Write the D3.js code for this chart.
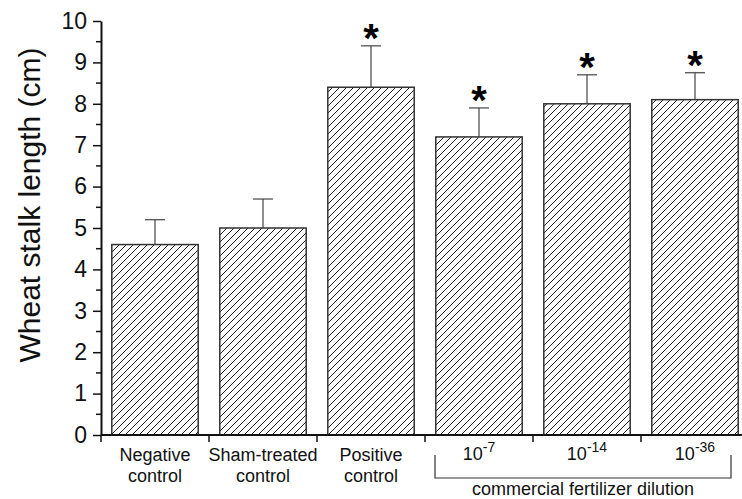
<!DOCTYPE html>
<html>
<head>
<meta charset="utf-8">
<script src="https://cdn.jsdelivr.net/npm/d3@7"></script>
<style>
  body { margin: 0; background: #fff; }
  svg { font-family: "Liberation Sans", Arial, sans-serif; }
</style>
</head>
<body>
<div id="chart"></div>
<script>
// chart data
const groups = ["neg", "sham", "pos", "d7", "d14", "d36"];
const labelLines = [["Negative", "control"], ["Sham-treated", "control"], ["Positive", "control"], [], [], []];
const dilutionExp = [null, null, null, "-7", "-14", "-36"];
const means = [4.6, 5.0, 8.4, 7.2, 8.0, 8.1];
const errTop = [5.2, 5.7, 9.4, 7.9, 8.7, 8.75];
const starred = [false, false, true, true, true, true];
const yTicks = [0, 1, 2, 3, 4, 5, 6, 7, 8, 9, 10];
const bracketLabel = "commercial fertilizer dilution";

const svgWidth = 742, svgHeight = 499;
const margin = { top: 21, left: 101, bottom: 64 };
const plotRight = 749;

const svg = d3.select("#chart").append("svg")
  .attr("width", svgWidth)
  .attr("height", svgHeight);

// diagonal hatch
const hs = 7;
svg.append("defs").append("pattern")
  .attr("id", "hatch")
  .attr("patternUnits", "userSpaceOnUse")
  .attr("width", hs)
  .attr("height", hs)
  .append("path")
  .attr("d", `M-1,1 l2,-2 M0,${hs} l${hs},-${hs} M${hs - 1},${hs + 1} l2,-2`)
  .attr("stroke", "#222")
  .attr("stroke-width", 1);

const y = d3.scaleLinear()
  .domain([0, 10])
  .range([svgHeight - margin.bottom, margin.top]);

const x = d3.scaleBand()
  .domain(groups)
  .range([margin.left, plotRight]);

const barW = x.bandwidth() * 0.8;
const barX = (g) => x(g) + (x.bandwidth() - barW) / 2;
const mid = (g) => x(g) + x.bandwidth() / 2;

// bars
svg.append("g").selectAll("rect")
  .data(groups)
  .join("rect")
  .attr("x", d => barX(d))
  .attr("y", (d, i) => y(means[i]))
  .attr("width", barW)
  .attr("height", (d, i) => y(0) - y(means[i]))
  .attr("fill", "url(#hatch)")
  .attr("stroke", "#333")
  .attr("stroke-width", 1.5);

// error bars
const eb = svg.append("g").attr("stroke", "#444").attr("stroke-width", 1.2);
groups.forEach((g, i) => {
  eb.append("line")
    .attr("x1", mid(g)).attr("x2", mid(g))
    .attr("y1", y(means[i])).attr("y2", y(errTop[i]));
  eb.append("line")
    .attr("x1", mid(g) - 10).attr("x2", mid(g) + 10)
    .attr("y1", y(errTop[i])).attr("y2", y(errTop[i]));
});

// asterisks
svg.append("g").selectAll("text")
  .data(groups.filter((g, i) => starred[i]))
  .join("text")
  .attr("x", d => mid(d))
  .attr("y", d => y(errTop[groups.indexOf(d)]) + 6)
  .attr("text-anchor", "middle")
  .attr("font-size", 40)
  .attr("font-weight", "bold")
  .text("*");

// y axis
const yAxis = svg.append("g")
  .attr("transform", `translate(${margin.left},0)`);
yAxis.call(d3.axisLeft(y).tickValues(yTicks).tickSize(8).tickPadding(6).tickSizeOuter(0))
  .call(g => g.select(".domain").attr("stroke-width", 2).attr("stroke", "#111"))
  .call(g => g.selectAll(".tick line").attr("stroke-width", 1.5).attr("stroke", "#111"))
  .call(g => g.selectAll(".tick text").attr("font-size", 23).attr("fill", "#111")
    .attr("font-family", "Liberation Sans, Arial, sans-serif"));
yAxis.selectAll(".minor")
  .data(d3.range(0.5, 10, 1))
  .join("line")
  .attr("class", "minor")
  .attr("x1", -5).attr("x2", 0)
  .attr("y1", d => y(d)).attr("y2", d => y(d))
  .attr("stroke", "#111")
  .attr("stroke-width", 1.5);

// x axis: baseline plus category boundary ticks
const xAxis = svg.append("g");
xAxis.append("line")
  .attr("x1", margin.left).attr("x2", plotRight)
  .attr("y1", y(0)).attr("y2", y(0))
  .attr("stroke", "#111").attr("stroke-width", 2);
xAxis.selectAll(".bt")
  .data(groups)
  .join("line")
  .attr("class", "bt")
  .attr("x1", d => x(d)).attr("x2", d => x(d))
  .attr("y1", y(0)).attr("y2", y(0) + 7)
  .attr("stroke", "#111").attr("stroke-width", 1.5);

// category labels
groups.forEach((g, i) => {
  labelLines[i].forEach((line, j) => {
    svg.append("text")
      .attr("x", mid(g))
      .attr("y", y(0) + 26 + j * 21)
      .attr("text-anchor", "middle")
      .attr("font-size", 18)
      .attr("fill", "#111")
      .text(line);
  });
  if (dilutionExp[i]) {
    const t = svg.append("text")
      .attr("x", mid(g))
      .attr("y", y(0) + 25)
      .attr("text-anchor", "middle")
      .attr("font-size", 18)
      .attr("fill", "#111");
    t.append("tspan").text("10");
    t.append("tspan").attr("dy", -8).attr("font-size", 14).text(dilutionExp[i]);
  }
});

// bracket under dilution groups
const bx1 = mid("d7") - 44, bx2 = mid("d36") + 36;
const by1 = y(0) + 20, by2 = y(0) + 43;
svg.append("path")
  .attr("d", `M${bx1},${by1} V${by2} H${bx2} V${by1}`)
  .attr("fill", "none")
  .attr("stroke", "#333")
  .attr("stroke-width", 1.2);
svg.append("text")
  .attr("x", (bx1 + bx2) / 2)
  .attr("y", by2 + 17)
  .attr("text-anchor", "middle")
  .attr("font-size", 18)
  .attr("fill", "#111")
  .text(bracketLabel);

// y label
svg.append("text")
  .attr("transform", `translate(40,205) rotate(-90)`)
  .attr("text-anchor", "middle")
  .attr("font-size", 30)
  .attr("fill", "#111")
  .text("Wheat stalk length (cm)");
</script>
</body>
</html>
